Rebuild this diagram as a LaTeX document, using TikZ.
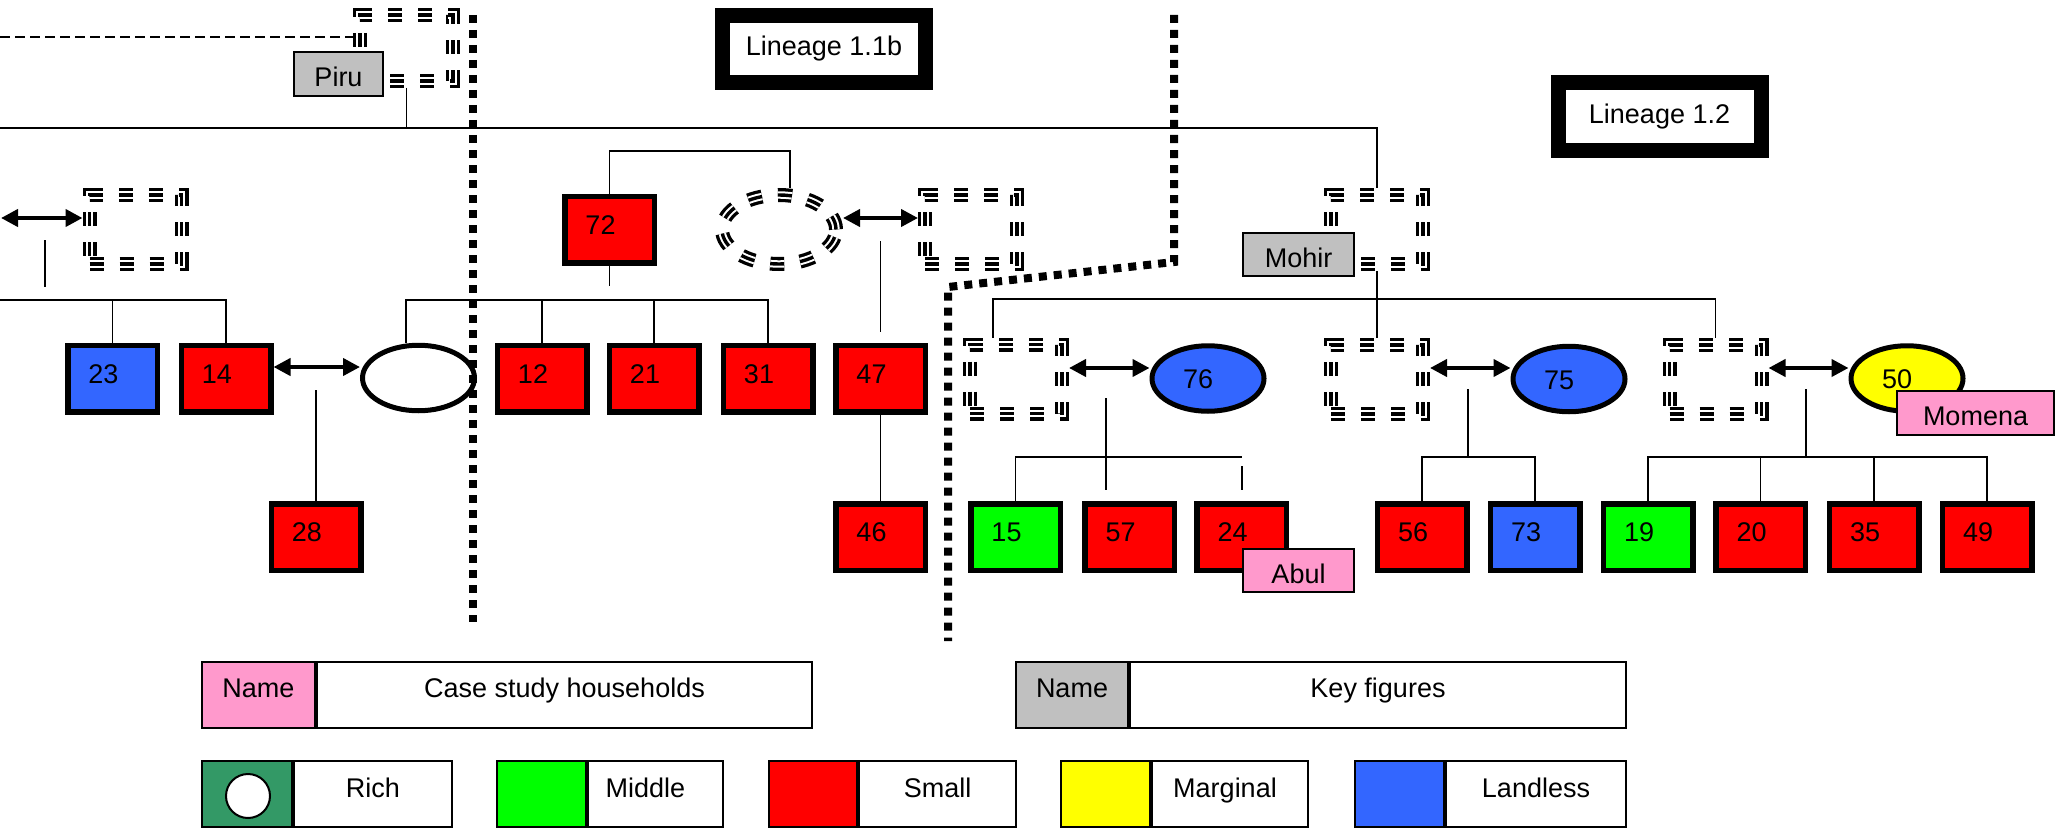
\documentclass[tikz,border=0pt]{standalone}
\usepackage{fontspec}
\setmainfont{Liberation Sans}
\usetikzlibrary{shapes.geometric,arrows.meta}
\definecolor{hhred}{HTML}{FF0000}
\definecolor{hhblue}{HTML}{3366FF}
\definecolor{hhgreen}{HTML}{00FF00}
\definecolor{hhyellow}{HTML}{FFFF00}
\definecolor{casepink}{HTML}{FF99CC}
\definecolor{keygray}{HTML}{C0C0C0}
\definecolor{richgreen}{HTML}{339966}
\tikzset{
  txt/.style={font=\fontsize{13.5pt}{16pt}\selectfont},
  hh/.style={rectangle, draw, line width=2.75pt, minimum width=44.75pt, minimum height=33.25pt, inner sep=0pt},
  spouse/.style={ellipse, draw, line width=2.5pt, minimum width=56pt, minimum height=32.75pt, inner sep=0pt},
  num/.style={label={[txt, inner sep=0pt, text height=4.5pt, text depth=0pt, xshift=-4.5pt]center:#1}},
  enum/.style={label={[txt, inner sep=0pt, text height=10pt, text depth=0pt, xshift=-5pt]center:#1}},
  ghost/.style={draw, line width=7pt, dash pattern=on 7pt off 8pt,
    postaction={draw, white, line width=3.7pt, dash pattern=on 7pt off 8pt},
    postaction={draw, black, line width=1.7pt, dash pattern=on 7pt off 8pt}},
  gbox/.style={ghost, rectangle, minimum width=46pt, minimum height=34.5pt, inner sep=0pt},
  gell/.style={ghost, ellipse, minimum width=57pt, minimum height=34.5pt, inner sep=0pt},
  tag/.style={txt, rectangle, draw, line width=1pt, inner sep=0pt, minimum height=22pt, text height=12.5pt, text depth=0pt},
  lineage/.style={txt, rectangle, draw, fill=white, line width=7.5pt, inner sep=0pt, minimum width=101.5pt, minimum height=33.75pt},
  conn/.style={line width=0.8pt},
  tie/.style={{Triangle[length=8.5pt,width=8.5pt]}-{Triangle[length=8.5pt,width=8.5pt]}, line width=2pt},
  divider/.style={line width=4pt, dash pattern=on 4pt off 3.5pt},
  cell/.style={rectangle, draw, line width=1pt, inner sep=0pt, minimum height=33pt},
  ctext/.style={label={[txt, inner sep=0pt, text height=2pt, text depth=0pt]center:#1}},
  rtext/.style 2 args={label={[txt, inner sep=0pt, text height=3pt, text depth=0pt, xshift=#1]center:#2}},
}
\begin{document}
\begin{tikzpicture}[x=0.5pt,y=-0.5pt]
\useasboundingbox (0,0) rectangle (2065,829);
\fill[white] (0,0) rectangle (2065,829);

% lineage titles
\node[lineage] (lin11b) at (824,49) {Lineage 1.1b};
\node[lineage] (lin12) at (1659.5,116.5) {Lineage 1.2};

% deceased / absent members (hatched outlines)
\node[gbox, minimum width=46.5pt, minimum height=33pt] (P) at (406.5,48) {};
\node[gbox] (A) at (135.5,229.5) {};
\node[gell] (G72) at (779,229.5) {};
\node[gbox] (B) at (971,229.5) {};
\node[gbox] (C) at (1377,229.5) {};
\node[gbox] (F) at (1016,379) {};
\node[gbox] (D) at (1377,379.5) {};
\node[gbox] (E) at (1715.5,379.5) {};

% households
\node[hh, fill=hhblue, num=23] (n23) at (112.5,378.5) {};
\node[hh, fill=hhred, num=14] (n14) at (226,378.5) {};
\node[hh, fill=hhred, num=28] (n28) at (316,537) {};
\node[hh, fill=hhred, num=72] (n72) at (609.5,229.5) {};
\node[hh, fill=hhred, num=12] (n12) at (542,378.5) {};
\node[hh, fill=hhred, num=21] (n21) at (654,378.5) {};
\node[hh, fill=hhred, num=31] (n31) at (768,378.5) {};
\node[hh, fill=hhred, num=47] (n47) at (880.5,378.5) {};
\node[hh, fill=hhred, num=46] (n46) at (880.5,537) {};
\node[hh, fill=hhgreen, num=15] (n15) at (1015.5,537) {};
\node[hh, fill=hhred, num=57] (n57) at (1129.5,537) {};
\node[hh, fill=hhred, num=24] (n24) at (1241.5,537) {};
\node[hh, fill=hhred, num=56] (n56) at (1422,537) {};
\node[hh, fill=hhblue, num=73] (n73) at (1535,537) {};
\node[hh, fill=hhgreen, num=19] (n19) at (1648,537) {};
\node[hh, fill=hhred, num=20] (n20) at (1760.5,537) {};
\node[hh, fill=hhred, num=35] (n35) at (1874,537) {};
\node[hh, fill=hhred, num=49] (n49) at (1987,537) {};

% spouses
\node[spouse, fill=white] (s14) at (418.5,378) {};
\node[spouse, fill=hhblue, enum=76] (s76) at (1208,378.5) {};
\node[spouse, fill=hhblue, enum=75] (s75) at (1569,379) {};
\node[spouse, fill=hhyellow, enum=50] (s50) at (1907,378.5) {};

% Piru's line
\coordinate (t0) at (0,128);
\draw[conn] (P.south) -- (P.south |- t0);
\draw[conn] (t0) -| (C.north);
\coordinate (tl) at (0,37);
\draw[line width=1pt, dash pattern=on 5pt off 2.5pt] (tl) -- (tl -| P.west);

% left family
\coordinate (aL) at (1,218);
\draw[tie] (aL) -- (aL -| A.west);
\coordinate (fa1) at (45,240);
\coordinate (fa2) at (45,287);
\draw[conn] (fa1) -- (fa2);
\coordinate (j0) at (0,300);
\draw[conn] (j0) -| (n14.north);
\draw[conn] (n23.north) -- (n23.north |- j0);
\coordinate (y367) at (0,367);
\draw[tie] (n14.east |- y367) -- (s14.west |- y367);
\coordinate (f28) at (316,390);
\draw[conn] (f28) -- (n28.north);
\coordinate (j1) at (406,300);
\draw[conn] (s14.north -| j1) -- (j1) -| (n31.north);
\draw[conn] (n12.north) -- (n12.north |- j1);
\draw[conn] (n21.north) -- (n21.north |- j1);

% household 72
\coordinate (j72) at (790,151);
\draw[conn] (n72.north) |- (j72) -- (j72 |- G72.north);
\coordinate (f72) at (609.5,286);
\draw[conn] (n72.south) -- (f72);
\coordinate (y218) at (0,218);
\draw[tie] (G72.east |- y218) -- (B.west |- y218);
\coordinate (f47a) at (880.5,241);
\coordinate (f47b) at (880.5,332);
\draw[conn] (f47a) -- (f47b);
\draw[conn] (n47.south) -- (n46.north);

% Mohir's line
\draw[conn] (C.south) -- (D.north);
\coordinate (h1) at (993,299);
\draw[conn] (h1 |- F.north) -- (h1) -| (E.north);
\coordinate (y368) at (0,368);
\draw[tie] (F.east |- y368) -- (s76.west |- y368);
\draw[tie] (D.east |- y368) -- (s75.west |- y368);
\draw[tie] (E.east |- y368) -- (s50.west |- y368);

% children of 76
\coordinate (k1) at (1242,457);
\draw[conn] (n15.north) |- (k1);
\coordinate (k2) at (1106,398);
\coordinate (k3) at (1106,490);
\draw[conn] (k2) -- (k3);
\coordinate (k4) at (1242,466);
\coordinate (k5) at (1242,490);
\draw[conn] (k4) -- (k5);

% children of 75
\coordinate (m1) at (1468,457);
\coordinate (g75) at (1468,389);
\draw[conn] (g75) -- (m1);
\draw[conn] (n56.north) |- (m1) -| (n73.north);

% children of 50
\coordinate (m2) at (1806,457);
\coordinate (g50) at (1806,389);
\draw[conn] (g50) -- (m2);
\draw[conn] (n19.north) |- (m2) -| (n49.north);
\draw[conn] (n20.north) -- (n20.north |- m2);
\draw[conn] (n35.north) -- (n35.north |- m2);

% name tags
\node[tag, fill=keygray, minimum width=44.5pt] (piru) at (338.5,74) {Piru};
\node[tag, fill=keygray, minimum width=55.5pt, minimum height=21.5pt] (mohir) at (1298.5,254.5) {Mohir};
\node[tag, fill=casepink, minimum width=55.5pt, minimum height=21.5pt] (abul) at (1298.5,570.5) {Abul};
\node[tag, fill=casepink, minimum width=78.5pt] (momena) at (1975.5,413) {Momena};

% legend
\node[cell, fill=casepink, minimum width=56.5pt, ctext=Name] (lgA1) at (258.5,695) {};
\node[cell, fill=white, minimum width=247.5pt, ctext=Case study households] (lgA2) at (564.5,695) {};
\node[cell, fill=keygray, minimum width=56pt, ctext=Name] (lgB1) at (1072,695) {};
\node[cell, fill=white, minimum width=248pt, ctext=Key figures] (lgB2) at (1378,695) {};

\node[cell, fill=richgreen, minimum width=45pt] (lgR1) at (247,794) {};
\node[circle, draw, fill=white, line width=1pt, minimum size=22pt, inner sep=0pt] (lgRc) at (248,796) {};
\node[cell, fill=white, minimum width=79pt, rtext={0pt}{Rich}] (lgR2) at (373,794) {};
\node[cell, fill=hhgreen, minimum width=44.5pt] (lgM1) at (541.5,794) {};
\node[cell, fill=white, minimum width=67.5pt, rtext={-5pt}{Middle}] (lgM2) at (655.5,794) {};
\node[cell, fill=hhred, minimum width=44pt] (lgS1) at (813,794) {};
\node[cell, fill=white, minimum width=78.5pt, rtext={0pt}{Small}] (lgS2) at (937.5,794) {};
\node[cell, fill=hhyellow, minimum width=44.5pt] (lgG1) at (1105.5,794) {};
\node[cell, fill=white, minimum width=78pt, rtext={-2.5pt}{Marginal}] (lgG2) at (1230,794) {};
\node[cell, fill=hhblue, minimum width=44.5pt] (lgL1) at (1399.5,794) {};
\node[cell, fill=white, minimum width=90pt, rtext={0pt}{Landless}] (lgL2) at (1536,794) {};

% dotted dividers between lineages
\coordinate (dA1) at (473,15);
\coordinate (dA2) at (473,622);
\draw[divider] (dA1) -- (dA2);
\coordinate (dB1) at (1174,15);
\coordinate (dB2) at (1174,262);
\coordinate (dB3) at (948,287);
\coordinate (dB4) at (948,641);
\draw[divider] (dB1) -- (dB2) -- (dB3) -- (dB4);
\end{tikzpicture}
\end{document}
